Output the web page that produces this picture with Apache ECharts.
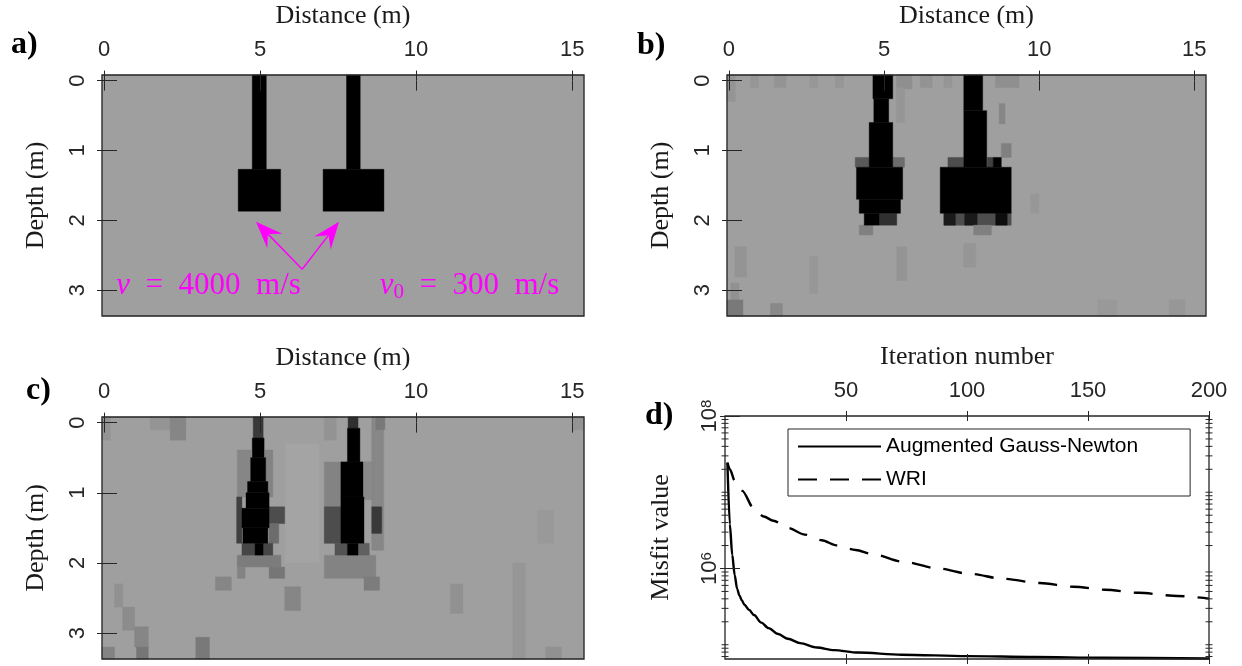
<!DOCTYPE html>
<html>
<head>
<meta charset="utf-8">
<script src="https://cdn.jsdelivr.net/npm/echarts@6/dist/echarts.min.js"></script>
<style>
  html, body { margin: 0; padding: 0; background: #ffffff; }
  #chart { width: 1242px; height: 666px; }
</style>
</head>
<body>
<div id="chart"></div>
<script>
// ---------------- data ----------------
// velocity-model panels (a, b, c): distance / depth in metres
const DIST_TICKS = [0, 5, 10, 15];
const DEPTH_TICKS = [0, 1, 2, 3];
const DIST_RANGE = [-0.064, 15.38];
const DEPTH_RANGE = [-0.08, 3.37];
const V_BACKGROUND = 300;      // m/s
const V_CLIM = [0, 800];       // gray colour limits, m/s

// model cells: [x0, x1, z0, z1, velocity (m/s)], drawn in order
const trueModel = [
  [4.75, 5.20, -0.08, 1.27, 4000],
  [4.30, 5.66, 1.27, 1.87, 4000],
  [7.77, 8.21, -0.08, 1.27, 4000],
  [7.02, 8.97, 1.27, 1.87, 4000]
];

const recoveredB = [
  [0.70, 0.95, -0.08, 0.10, 330],
  [1.46, 1.84, -0.08, 0.10, 335],
  [2.60, 2.86, -0.08, 0.10, 325],
  [3.43, 3.69, -0.08, 0.10, 330],
  [5.40, 5.90, -0.08, 0.12, 350],
  [6.17, 6.55, -0.08, 0.10, 340],
  [6.93, 7.19, -0.08, 0.10, 330],
  [8.59, 9.35, -0.08, 0.10, 350],
  [-0.064, 0.20, -0.08, 0.30, 335],
  [5.40, 5.66, 0.10, 0.60, 330],
  [8.71, 8.90, 0.33, 0.62, 380],
  [8.78, 9.10, 0.90, 1.10, 400],
  [4.07, 4.52, 1.10, 1.24, 520],
  [5.28, 5.66, 1.10, 1.24, 460],
  [7.06, 7.57, 1.10, 1.24, 560],
  [8.33, 8.52, 1.10, 1.24, 600],
  [8.52, 8.78, 1.10, 1.24, 800],
  [4.84, 5.41, 1.90, 2.07, 650],
  [4.20, 4.64, 2.07, 2.21, 400],
  [6.93, 9.10, 1.90, 2.07, 560],
  [6.93, 7.30, 1.90, 2.07, 720],
  [7.60, 8.00, 1.90, 2.07, 720],
  [8.60, 8.97, 1.90, 2.07, 760],
  [7.89, 8.46, 2.07, 2.21, 400],
  [5.41, 5.73, 2.38, 2.86, 335],
  [7.57, 7.95, 2.33, 2.67, 330],
  [2.60, 2.86, 2.52, 3.05, 325],
  [0.19, 0.57, 2.38, 2.81, 335],
  [0.06, 0.32, 2.90, 3.37, 345],
  [-0.064, 0.45, 3.14, 3.37, 420],
  [1.34, 1.72, 3.19, 3.37, 370],
  [11.90, 12.50, 3.14, 3.37, 320],
  [14.20, 14.70, 3.14, 3.37, 325],
  [9.73, 9.99, 1.62, 1.90, 325],
  [4.64, 5.28, -0.08, 0.26, 1000],
  [4.67, 5.15, 0.26, 0.60, 1000],
  [4.52, 5.28, 0.60, 1.24, 1000],
  [4.11, 5.60, 1.24, 1.70, 1000],
  [4.20, 5.53, 1.70, 1.90, 1000],
  [4.36, 4.84, 1.90, 2.07, 1000],
  [7.57, 8.18, -0.08, 0.43, 1000],
  [7.57, 8.31, 0.43, 1.24, 1000],
  [6.81, 9.10, 1.24, 1.90, 1000]
];

const recoveredC = [
  [1.48, 2.62, -0.08, 0.10, 335],
  [2.12, 2.62, -0.08, 0.25, 380],
  [-0.064, 0.20, -0.08, 0.25, 340],
  [7.06, 7.44, -0.08, 0.25, 340],
  [8.58, 8.96, -0.08, 1.82, 375],
  [8.71, 9.00, -0.08, 0.10, 420],
  [15.04, 15.38, -0.08, 0.10, 340],
  [5.80, 6.90, 0.30, 2.00, 285],
  [4.27, 4.71, 0.39, 1.06, 380],
  [5.16, 5.41, 0.39, 1.06, 390],
  [7.06, 7.59, 0.56, 1.72, 390],
  [8.33, 8.58, 0.56, 1.10, 370],
  [4.25, 4.42, 1.06, 1.72, 600],
  [5.29, 5.79, 1.20, 1.44, 560],
  [5.29, 5.60, 1.44, 1.72, 460],
  [7.06, 7.59, 1.20, 1.72, 560],
  [8.58, 8.90, 1.20, 1.58, 620],
  [4.27, 5.67, 1.89, 2.06, 410],
  [4.42, 4.84, 1.72, 1.89, 580],
  [5.10, 5.41, 1.72, 1.89, 580],
  [4.27, 4.52, 2.06, 2.22, 390],
  [5.29, 5.79, 2.06, 2.22, 430],
  [3.57, 4.08, 2.20, 2.39, 380],
  [5.79, 6.30, 2.34, 2.68, 380],
  [7.06, 8.71, 1.89, 2.22, 390],
  [8.33, 8.83, 2.20, 2.39, 410],
  [7.40, 7.80, 1.72, 1.89, 540],
  [8.14, 8.50, 1.72, 1.89, 500],
  [0.34, 0.60, 2.30, 2.63, 345],
  [0.60, 0.98, 2.63, 2.96, 360],
  [0.98, 1.42, 2.91, 3.20, 380],
  [1.04, 1.42, 3.20, 3.37, 430],
  [-0.064, 0.34, 3.20, 3.37, 390],
  [2.94, 3.38, 3.06, 3.37, 420],
  [11.10, 11.50, 2.30, 2.72, 345],
  [13.10, 13.50, 2.00, 3.37, 330],
  [13.90, 14.40, 1.25, 1.72, 320],
  [14.15, 14.66, 3.20, 3.37, 345],
  [4.78, 5.10, -0.08, 0.22, 620],
  [4.75, 5.13, 0.22, 0.50, 1000],
  [4.70, 5.18, 0.50, 0.84, 1000],
  [4.60, 5.25, 0.84, 1.00, 1000],
  [4.55, 5.29, 1.00, 1.22, 1000],
  [4.42, 5.29, 1.22, 1.50, 1000],
  [4.45, 5.25, 1.50, 1.72, 1000],
  [4.84, 5.10, 1.72, 1.89, 1000],
  [7.82, 8.14, -0.08, 0.08, 650],
  [7.80, 8.20, 0.08, 0.56, 1000],
  [7.59, 8.30, 0.56, 1.06, 1000],
  [7.59, 8.33, 1.06, 1.72, 1000],
  [7.80, 8.14, 1.72, 1.89, 1000]
];

// annotation in panel a: arrows [fromX, fromZ, toX, toZ] and labels [x, z]
const arrowSegments = [
  [6.35, 2.70, 4.87, 2.02],
  [6.35, 2.70, 7.53, 2.02]
];
const annotationPoints = [[3.35, 2.94], [11.71, 2.94]];
const annotationTexts = [
  '{i|v}{n|  =  4000  m/s}',
  '{i|v}{sub|0}{n|  =  300  m/s}'
];

// convergence panel d
const ITER_TICKS = [50, 100, 150, 200];
const ITER_RANGE = [0, 200];
const MISFIT_TICKS = [1e6, 1e8];
const MISFIT_RANGE = [6.5e4, 1e8];
const MISFIT_MINOR = [7e4, 8e4, 9e4, 1e5, 2e5, 3e5, 4e5, 5e5, 6e5, 7e5, 8e5, 9e5,
  2e6, 3e6, 4e6, 5e6, 6e6, 7e6, 8e6, 9e6, 1e7, 2e7, 3e7, 4e7, 5e7, 6e7, 7e7, 8e7, 9e7];

const gnIter = [1, 2, 3, 4, 5, 6, 7, 8, 10, 12, 15, 18, 22, 26, 31, 38, 45, 55, 73, 100, 128, 156, 200];
const gnMisfit = [2.44e7, 3.8e6, 1.5e6, 8.2e5, 5.4e5, 4.4e5, 3.8e5, 3.35e5, 2.85e5, 2.45e5, 1.95e5, 1.65e5,
  1.38e5, 1.2e5, 1.05e5, 9.2e4, 8.5e4, 7.9e4, 7.4e4, 7.1e4, 6.9e4, 6.75e4, 6.6e4];

const wriIter = [1, 2, 4, 7, 12, 16, 20, 26, 33, 40, 46, 54, 61, 74, 88, 101, 115, 130, 144, 157, 171, 185, 200];
const wriMisfit = [2.46e7, 2.0e7, 1.42e7, 1.05e7, 6.1e6, 4.8e6, 4.23e6, 3.4e6, 2.78e6, 2.35e6, 2.01e6, 1.75e6,
  1.54e6, 1.22e6, 1.0e6, 8.53e5, 7.33e5, 6.44e5, 5.77e5, 5.27e5, 4.8e5, 4.4e5, 4.03e5];

// ---------------- styling ----------------
const INK = '#262626';
const MAGENTA = '#ff00ff';
const SANS = 'Liberation Sans';
const SERIF = 'Liberation Serif';

const chart = echarts.init(document.getElementById('chart'), null, { renderer: 'canvas' });

const grids = [
  { left: 102, top: 75, width: 482, height: 241 },
  { left: 727, top: 75, width: 479, height: 241 },
  { left: 102, top: 417, width: 482, height: 242 },
  { left: 725, top: 416, width: 484, height: 243 }
].map(g => Object.assign({ show: true, borderColor: INK, borderWidth: 1.3, backgroundColor: 'transparent', z: 5 }, g));

function grayOf(v) {
  let t = (V_CLIM[1] - v) / (V_CLIM[1] - V_CLIM[0]);
  t = Math.max(0, Math.min(1, t));
  const c = Math.round(255 * t);
  return 'rgb(' + c + ',' + c + ',' + c + ')';
}

const tickStyle = (values) => ({ show: true, inside: false, length: 10, customValues: values, lineStyle: { color: INK, width: 1 } });
const nameStyle = { fontFamily: SERIF, fontSize: 26, color: '#1a1a1a' };
const labelStyle = { fontFamily: SANS, fontSize: 22, color: INK };

const xAxes = [];
const yAxes = [];

// distance/depth axes for panels a, b, c (ticks straddle the frame)
for (let i = 0; i < 3; i++) {
  xAxes.push({
    gridIndex: i, type: 'value', position: 'top', offset: -5, z: 6,
    min: DIST_RANGE[0], max: DIST_RANGE[1],
    name: 'Distance (m)', nameLocation: 'middle', nameGap: 51, nameTextStyle: nameStyle,
    axisLine: { show: false }, axisTick: tickStyle(DIST_TICKS),
    axisLabel: Object.assign({ show: true, customValues: DIST_TICKS, margin: 19 }, labelStyle),
    splitLine: { show: false }
  });
  xAxes.push({
    gridIndex: i, type: 'value', position: 'bottom', offset: -5, z: 6,
    min: DIST_RANGE[0], max: DIST_RANGE[1],
    axisLine: { show: false }, axisTick: tickStyle(DIST_TICKS),
    axisLabel: { show: false }, splitLine: { show: false }
  });
  yAxes.push({
    gridIndex: i, type: 'value', position: 'left', offset: -5, inverse: true, z: 6,
    min: DEPTH_RANGE[0], max: DEPTH_RANGE[1],
    name: 'Depth (m)', nameLocation: 'middle', nameGap: 58, nameTextStyle: nameStyle,
    axisLine: { show: false }, axisTick: tickStyle(DEPTH_TICKS),
    axisLabel: Object.assign({ show: true, customValues: DEPTH_TICKS, margin: 18, rotate: 90 }, labelStyle),
    splitLine: { show: false }
  });
  yAxes.push({
    gridIndex: i, type: 'value', position: 'right', offset: -5, inverse: true, z: 6,
    min: DEPTH_RANGE[0], max: DEPTH_RANGE[1],
    axisLine: { show: false }, axisTick: tickStyle(DEPTH_TICKS),
    axisLabel: { show: false }, splitLine: { show: false }
  });
}

// iteration / misfit axes for panel d
xAxes.push({
  gridIndex: 3, type: 'value', position: 'top', offset: -5, z: 6,
  min: ITER_RANGE[0], max: ITER_RANGE[1],
  name: 'Iteration number', nameLocation: 'middle', nameGap: 51, nameTextStyle: nameStyle,
  axisLine: { show: false }, axisTick: tickStyle(ITER_TICKS),
  axisLabel: Object.assign({ show: true, customValues: ITER_TICKS, margin: 19 }, labelStyle),
  splitLine: { show: false }
});
xAxes.push({
  gridIndex: 3, type: 'value', position: 'bottom', offset: -5, z: 6,
  min: ITER_RANGE[0], max: ITER_RANGE[1],
  axisLine: { show: false }, axisTick: tickStyle(ITER_TICKS),
  axisLabel: { show: false }, splitLine: { show: false }
});
yAxes.push({
  gridIndex: 3, type: 'log', logBase: 10, position: 'left', offset: -5, z: 6,
  min: MISFIT_RANGE[0], max: MISFIT_RANGE[1],
  name: 'Misfit value', nameLocation: 'middle', nameGap: 56, nameTextStyle: nameStyle,
  axisLine: { show: false }, axisTick: tickStyle(MISFIT_TICKS),
  axisLabel: {
    show: true, customValues: MISFIT_TICKS, margin: 9, rotate: 90,
    formatter: v => '{b|10}{s|' + Math.round(Math.log10(v)) + '}',
    rich: {
      b: { fontFamily: SANS, fontSize: 22, color: INK },
      s: { fontFamily: SANS, fontSize: 15, color: INK, verticalAlign: 'top' }
    }
  },
  splitLine: { show: false }
});
yAxes.push({
  gridIndex: 3, type: 'log', logBase: 10, position: 'right', offset: -5, z: 6,
  min: MISFIT_RANGE[0], max: MISFIT_RANGE[1],
  axisLine: { show: false }, axisTick: tickStyle(MISFIT_TICKS),
  axisLabel: { show: false }, splitLine: { show: false }
});

// one rectangle per model cell, placed through the axes
function cellRenderer(params, api) {
  const p0 = api.coord([api.value(0), api.value(2)]);
  const p1 = api.coord([api.value(1), api.value(3)]);
  const cs = params.coordSys;
  const rect = echarts.graphic.clipRectByRect({
    x: Math.min(p0[0], p1[0]), y: Math.min(p0[1], p1[1]),
    width: Math.abs(p1[0] - p0[0]), height: Math.abs(p1[1] - p0[1])
  }, { x: cs.x, y: cs.y, width: cs.width, height: cs.height });
  if (!rect) return;
  const fill = grayOf(api.value(4));
  return { type: 'rect', shape: rect, style: { fill: fill, stroke: fill, lineWidth: 0.4 } };
}

function modelSeries(idx, cells) {
  const background = [DIST_RANGE[0], DIST_RANGE[1], DEPTH_RANGE[0], DEPTH_RANGE[1], V_BACKGROUND];
  return {
    type: 'custom', xAxisIndex: 2 * idx, yAxisIndex: 2 * idx, z: 2,
    dimensions: ['x0', 'x1', 'z0', 'z1', 'v'],
    encode: { x: [0, 1], y: [2, 3] },
    renderItem: cellRenderer, silent: true,
    data: [background].concat(cells)
  };
}

const series = [
  modelSeries(0, trueModel),
  modelSeries(1, recoveredB),
  modelSeries(2, recoveredC),
  {
    // arrows pointing at the two anomalies
    type: 'custom', xAxisIndex: 0, yAxisIndex: 0, z: 3, silent: true,
    encode: { x: [0, 2], y: [1, 3] },
    data: arrowSegments,
    renderItem: function (params, api) {
      const a = api.coord([api.value(0), api.value(1)]);
      const t = api.coord([api.value(2), api.value(3)]);
      const dx = t[0] - a[0], dy = t[1] - a[1];
      const len = Math.hypot(dx, dy);
      const ux = dx / len, uy = dy / len, nx = -uy, ny = ux;
      const L = 27, W = 10.5, D = 17;
      const base = [t[0] - ux * L, t[1] - uy * L];
      const notch = [t[0] - ux * D, t[1] - uy * D];
      return {
        type: 'group', children: [
          { type: 'line', shape: { x1: a[0], y1: a[1], x2: notch[0], y2: notch[1] }, style: { stroke: MAGENTA, lineWidth: 1.5 } },
          { type: 'polygon', shape: { points: [t, [base[0] + nx * W, base[1] + ny * W], notch, [base[0] - nx * W, base[1] - ny * W]] }, style: { fill: MAGENTA } }
        ]
      };
    }
  },
  {
    // velocity labels
    type: 'custom', xAxisIndex: 0, yAxisIndex: 0, z: 3, silent: true,
    encode: { x: 0, y: 1 },
    data: annotationPoints,
    renderItem: function (params, api) {
      const p = api.coord([api.value(0), api.value(1)]);
      return {
        type: 'text', x: p[0], y: p[1],
        style: {
          text: annotationTexts[params.dataIndex], align: 'center', verticalAlign: 'middle',
          fill: MAGENTA,
          rich: {
            i: { fontFamily: SERIF, fontStyle: 'italic', fontSize: 31, fill: MAGENTA, color: MAGENTA, lineHeight: 34 },
            n: { fontFamily: SERIF, fontSize: 31, fill: MAGENTA, color: MAGENTA, lineHeight: 34 },
            sub: { fontFamily: SERIF, fontSize: 21, fill: MAGENTA, color: MAGENTA, verticalAlign: 'bottom', lineHeight: 34 }
          }
        }
      };
    }
  },
  {
    name: 'Augmented Gauss-Newton', type: 'line', xAxisIndex: 6, yAxisIndex: 6, z: 3,
    data: gnIter.map((it, k) => [it, gnMisfit[k]]),
    showSymbol: false, symbol: 'none', smooth: 0.3, smoothMonotone: 'x',
    lineStyle: { color: '#000000', width: 2.4 }, itemStyle: { color: '#000000' },
    silent: true, animation: false
  },
  {
    name: 'WRI', type: 'line', xAxisIndex: 6, yAxisIndex: 6, z: 3,
    data: wriIter.map((it, k) => [it, wriMisfit[k]]),
    showSymbol: false, symbol: 'none', smooth: 0.3, smoothMonotone: 'x',
    lineStyle: { color: '#000000', width: 2.4, type: [19, 13] }, itemStyle: { color: '#000000' },
    silent: true, animation: false
  },
  {
    // logarithmic minor ticks on both vertical sides of panel d
    type: 'custom', xAxisIndex: 6, yAxisIndex: 6, z: 6, silent: true,
    dimensions: ['v'], encode: { y: 0 },
    data: MISFIT_MINOR.map(v => [v]),
    renderItem: function (params, api) {
      const y = api.coord([ITER_RANGE[0], api.value(0)])[1];
      const cs = params.coordSys;
      const xl = cs.x, xr = cs.x + cs.width;
      return {
        type: 'group', children: [
          { type: 'line', shape: { x1: xl - 3.5, y1: y, x2: xl + 3.5, y2: y }, style: { stroke: INK, lineWidth: 1 } },
          { type: 'line', shape: { x1: xr - 3.5, y1: y, x2: xr + 3.5, y2: y }, style: { stroke: INK, lineWidth: 1 } }
        ]
      };
    }
  }
];

const panelLabel = (text, x, y) => ({
  type: 'text', x: x, y: y,
  style: { text: text, fontFamily: SERIF, fontWeight: 'bold', fontSize: 32, fill: '#000', verticalAlign: 'middle' }
});

chart.setOption({
  animation: false,
  grid: grids,
  xAxis: xAxes,
  yAxis: yAxes,
  legend: {
    data: ['Augmented Gauss-Newton', 'WRI'],
    orient: 'vertical', left: 788, top: 429,
    padding: [7, 52, 6, 9], itemWidth: 83, itemHeight: 14, itemGap: 12,
    borderColor: INK, borderWidth: 1, backgroundColor: '#ffffff',
    itemStyle: { opacity: 0 },
    textStyle: { fontFamily: SANS, fontSize: 21, color: '#000' },
    selectedMode: false, z: 7
  },
  graphic: [
    panelLabel('a)', 11, 45),
    panelLabel('b)', 637, 46),
    panelLabel('c)', 26, 391),
    panelLabel('d)', 645, 416)
  ],
  series: series
});
</script>
</body>
</html>
